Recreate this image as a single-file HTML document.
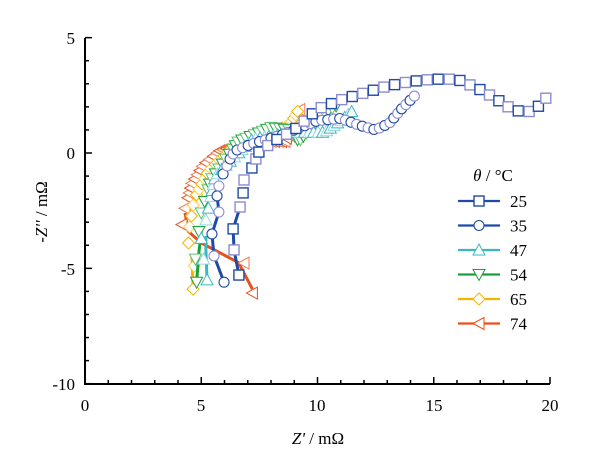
<!DOCTYPE html><html><head><meta charset="utf-8"><style>body{margin:0;background:#fff}svg{display:block}text{font-family:"Liberation Serif",serif;font-size:17px;fill:#000}</style></head><body>
<svg id="s" width="601" height="464" xmlns="http://www.w3.org/2000/svg">
<g stroke="#000" stroke-width="2" fill="none">
<line x1="85" y1="38" x2="85" y2="385"/><line x1="84" y1="384" x2="550" y2="384"/>
</g>
<g id="t"></g><g id="d"></g>
<g text-anchor="end"><text x="75" y="44">5</text><text x="75" y="159">0</text><text x="75" y="275">-5</text><text x="75" y="390">-10</text></g>
<g text-anchor="middle"><text x="85" y="411">0</text><text x="201" y="411">5</text><text x="317" y="411">10</text><text x="434" y="411">15</text><text x="550" y="411">20</text>
<text x="318" y="444"><tspan font-style="italic">Z'</tspan> / mΩ</text>
<text x="493" y="181"><tspan font-style="italic">θ</tspan> / °C</text></g>
<text transform="translate(47,212) rotate(-90)" text-anchor="middle">-<tspan font-style="italic">Z''</tspan> / mΩ</text>
</svg>
<script>
const X=v=>85+v*23.25,Y=v=>153-v*23.07,t=document.getElementById('t'),d=document.getElementById('d');
let h='';
for(let i=0;i<=20;i++){let x=X(i),l=i%5?4:7;h+=`<line x1="${x}" y1="384" x2="${x}" y2="${384-l}" stroke="#000" stroke-width="1.5"/>`}
for(let i=-10;i<=5;i++){let y=Y(i),l=i%5?4:7;h+=`<line x1="85" y1="${y}" x2="${85+l}" y2="${y}" stroke="#000" stroke-width="1.5"/>`}
t.innerHTML=h;
function mk(m,x,y,c){const r=5;
if(m=='s')return`<rect x="${x-r}" y="${y-r}" width="${2*r}" height="${2*r}" fill="#fff" stroke="${c}" stroke-width="1.4"/>`;
if(m=='o')return`<circle cx="${x}" cy="${y}" r="${r}" fill="#fff" stroke="${c}" stroke-width="1.1"/>`;
let p;
if(m=='u')p=[[x,y-r-1],[x+r+1,y+r],[x-r-1,y+r]];
if(m=='v')p=[[x,y+r+1],[x+r+1,y-r],[x-r-1,y-r]];
if(m=='d')p=[[x,y-r-1],[x+r+1,y],[x,y+r+1],[x-r-1,y]];
if(m=='l')p=[[x-r-1,y],[x+r,y-r-1],[x+r,y+r+1]];
return`<polygon points="${p.map(a=>a.join(',')).join(' ')}" fill="#fff" stroke="${c}" stroke-width="1"/>`}
function walk(pts,stepf){const P=pts.map(p=>[X(p[0]),Y(p[1])]);const o=[P[0]];let cur=P[0].slice(),i=1,need=stepf(cur);
while(i<P.length){const dx=P[i][0]-cur[0],dy=P[i][1]-cur[1],dl=Math.hypot(dx,dy);
if(dl>=need){cur=[cur[0]+dx*need/dl,cur[1]+dy*need/dl];o.push(cur.slice());need=stepf(cur)}else{need-=dl;cur=P[i].slice();i++}}return o}
const st=(a,b,c)=>p=>{const y=(153-p[1])/23.07;return y<-2?a:(y<0?b:c)};
const S=[
['l',['#e8501e','#f07a50'],'#e8501e',[[4.3,-2.6],[4.45,-3.4],[5.0,-3.9],[6.6,-4.75],[7.2,-5.9]],[[4.17,-3.1],[6.84,-4.77],[7.2,-6.07]],[[4.3,-2.4],[4.6,-1.3],[5.1,-0.5],[5.8,0.1],[7.2,0.5],[8.6,0.5],[9.0,1.4],[9.3,2.0]],st(11,5,3.5)],
['d',['#f5b400','#fcd050'],'#f5b400',[[4.65,-5.9],[4.6,-4.5]],[[4.65,-5.9],[4.7,-4.9],[4.45,-3.9]],[[4.5,-3.2],[4.7,-2.0],[5.3,-0.8],[6.5,0.4],[8,0.9],[8.8,1.2],[9.2,1.9]],st(11,6,4)],
['v',['#1aa03a','#60c070'],'#1aa03a',[[4.8,-5.6],[4.9,-4.3],[5.0,-3.4]],[[4.8,-5.6],[4.75,-4.6],[4.9,-3.4]],[[5.0,-2.6],[5.4,-1.2],[6.6,0.5],[8,1.1],[8.8,1.0],[9.2,0.5],[9.8,1.2],[10.4,1.8],[10.9,2.1]],st(12,6,4.5)],
['u',['#3ab8c0','#90d8dc'],'#3ab8c0',[[5.25,-5.5],[5.2,-4.2],[5.2,-3.6]],[[5.25,-5.5],[5.1,-4.6],[5.0,-3.7]],[[5.2,-2.9],[5.6,-1.0],[7.2,0.6],[9,0.9],[10.3,0.9],[11,1.4],[11.6,1.9]],st(12,6,4.5)],
['o',['#1f4aa8','#8c8cd0'],'#1f4aa8',[[5.98,-5.6],[5.55,-4.46],[5.46,-3.51],[5.76,-2.56],[5.68,-1.86]],[[5.98,-5.6],[5.55,-4.46],[5.46,-3.51],[5.76,-2.56],[5.68,-1.86],[5.76,-1.43],[5.94,-0.91],[6.11,-0.56],[6.24,-0.26],[6.37,-0.04]],[[6.54,0.13],[7.2,0.4],[8.5,0.8],[10,1.4],[11,1.5],[11.8,1.2],[12.5,1.0],[13.1,1.3],[13.6,1.9],[14.3,2.6]],p=>6],
['s',['#1f4aa8','#8c8cd0'],'#1f4aa8',[[6.62,-5.29],[6.41,-4.2],[6.37,-3.29],[6.67,-2.34]],[[6.62,-5.29],[6.41,-4.2],[6.37,-3.29],[6.67,-2.34],[6.8,-1.73],[6.84,-1.17],[7.18,-0.65],[7.35,-0.26]],[[7.48,0.04],[8.1,0.5],[9,1.0],[10,1.9],[11,2.3],[12,2.6],[13,2.9],[14,3.1],[15,3.2],[16,3.2],[16.9,2.8],[17.6,2.4],[18.2,2.0],[18.7,1.8],[19.2,1.8],[19.6,2.1],[20,2.6]],p=>11]];
let g='';
S.forEach(([m,cs,lc,ln,tail,arc,sf])=>{g+=`<polyline points="${ln.map(p=>X(p[0])+','+Y(p[1])).join(' ')}" fill="none" stroke="${lc}" stroke-width="3"/>`;
let k=0;tail.forEach(p=>g+=mk(m,X(p[0]),Y(p[1]),cs[(k++)%2]));
walk(arc,sf).forEach(p=>g+=mk(m,p[0],p[1],cs[(k++)%2]))});
const lg=[['s','25','#1f4aa8'],['o','35','#1f4aa8'],['u','47','#3ab8c0'],['v','54','#1aa03a'],['d','65','#f5b400'],['l','74','#e8501e']];
lg.forEach(([m,l,c],i)=>{const y=201+i*24.5;g+=`<line x1="458" y1="${y}" x2="500" y2="${y}" stroke="${c}" stroke-width="2.2"/>`+mk(m,479,y,c)+`<text x="510" y="${y+6}">${l}</text>`});
d.innerHTML=g;
</script></body></html>
